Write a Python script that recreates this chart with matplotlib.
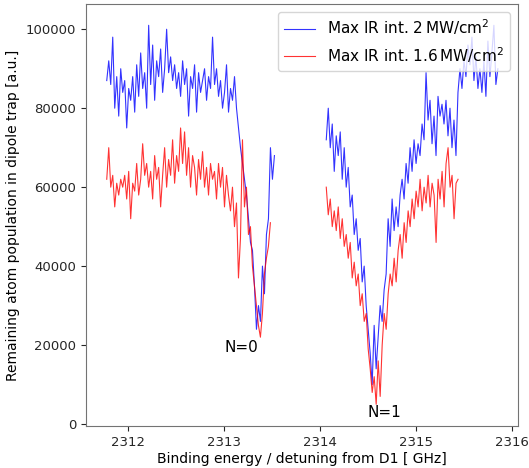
import numpy as np
import matplotlib
matplotlib.use("Agg")
import matplotlib.pyplot as plt
from matplotlib.ticker import MultipleLocator, ScalarFormatter

# scan 1 (N=0 line) and scan 2 (N=1 line), detuning in GHz, counts in thousands
scan1_start, scan1_stop_blue, scan1_stop_red = 2311.776, 2313.523, 2313.481
scan2_start, scan2_stop_blue, scan2_stop_red = 2314.063, 2315.851, 2315.436

blue_scan1 = [87, 92, 86, 98, 80, 88, 78, 90, 84, 87, 75, 85, 82, 88, 79, 91,
              83, 94, 85, 89, 80, 101, 86, 96, 82, 92, 88, 95, 84, 90, 100, 89,
              93, 87, 91, 85, 89, 83, 92, 86, 90, 78, 88, 85, 91, 79, 89, 84,
              87, 90, 82, 88, 85, 98, 86, 90, 83, 87, 80, 84, 91, 79, 85, 82,
              88, 80, 75, 70, 66, 62, 58, 52, 46, 44, 35, 24, 30, 26, 40, 33,
              48, 52, 70, 62, 68]
red_scan1 = [62, 70, 60, 63, 55, 61, 58, 62, 60, 63, 57, 64, 52, 61, 59, 66,
             58, 62, 71, 63, 66, 60, 64, 57, 68, 62, 65, 55, 63, 70, 60, 67,
             63, 72, 61, 68, 64, 75, 66, 74, 63, 70, 60, 68, 65, 58, 67, 62,
             69, 60, 65, 58, 66, 62, 64, 57, 66, 60, 65, 55, 63, 58, 54, 60,
             50, 56, 37, 47, 72, 55, 60, 48, 50, 40, 35, 30, 25, 22, 28, 38,
             42, 45, 51]
blue_scan2 = [72, 80, 70, 76, 64, 73, 68, 74, 62, 70, 60, 65, 55, 58, 48, 52,
              44, 47, 36, 40, 30, 24, 18, 10, 25, 14, 22, 30, 26, 34, 38, 52,
              45, 57, 49, 55, 50, 58, 62, 57, 66, 61, 70, 64, 72, 66, 71, 68,
              76, 72, 89, 77, 82, 71, 78, 68, 83, 78, 81, 76, 82, 73, 80, 70,
              77, 68, 84, 90, 85, 92, 88, 96, 91, 98, 87, 93, 85, 90, 84, 92,
              83, 97, 88, 94, 101, 86, 90]
red_scan2 = [60, 53, 57, 50, 54, 49, 55, 47, 52, 45, 48, 42, 46, 37, 41, 35,
             38, 30, 33, 26, 28, 19, 14, 8, 12, 5, 16, 7, 20, 28, 24, 33,
             38, 35, 42, 36, 44, 48, 42, 51, 46, 54, 50, 57, 52, 59, 55, 62,
             54, 60, 56, 63, 55, 61, 58, 46, 62, 57, 64, 55, 66, 70, 60, 63,
             52, 61, 62]

label_blue = r"Max IR int. 2$\,$MW/cm$^2$"
label_red = r"Max IR int. 1.6$\,$MW/cm$^2$"


def join_scans(start1, stop1, vals1, start2, stop2, vals2):
    # NaN in between so the two scans are not connected
    x = np.concatenate([np.linspace(start1, stop1, len(vals1)), [np.nan],
                        np.linspace(start2, stop2, len(vals2))])
    y = np.concatenate([np.array(vals1) * 1000.0, [np.nan],
                        np.array(vals2) * 1000.0])
    return x, y


xb, yb = join_scans(scan1_start, scan1_stop_blue, blue_scan1,
                    scan2_start, scan2_stop_blue, blue_scan2)
xr, yr = join_scans(scan1_start, scan1_stop_red, red_scan1,
                    scan2_start, scan2_stop_red, red_scan2)

fig = plt.figure(figsize=(5.29, 4.68), dpi=100)
ax = fig.add_axes([0.1626, 0.0897, 0.8165, 0.9018])

ax.plot(xb, yb, color="blue", lw=0.8, alpha=0.8, label=label_blue)
ax.plot(xr, yr, color="red", lw=0.8, alpha=0.8, label=label_red)

ax.text(2313.18, 19500, "N=0", fontsize=11, ha="center", va="center")
ax.text(2314.67, 2800, "N=1", fontsize=11, ha="center", va="center")

ax.set_xlim(2311.56, 2316.06)
ax.set_ylim(-500, 106400)
ax.xaxis.set_major_locator(MultipleLocator(1))
ax.xaxis.set_major_formatter(ScalarFormatter(useOffset=False))
ax.yaxis.set_major_locator(MultipleLocator(20000))

ax.set_xlabel("Binding energy / detuning from D1 [ GHz]", fontsize=10, labelpad=2)
ax.set_ylabel("Remaining atom population in dipole trap [a.u.]", fontsize=10)
ax.tick_params(labelsize=9.5, colors="0.15")
for spine in ax.spines.values():
    spine.set_edgecolor("0.45")

ax.legend(loc="upper right", fontsize=11)

fig.savefig("out.png", dpi=100)
